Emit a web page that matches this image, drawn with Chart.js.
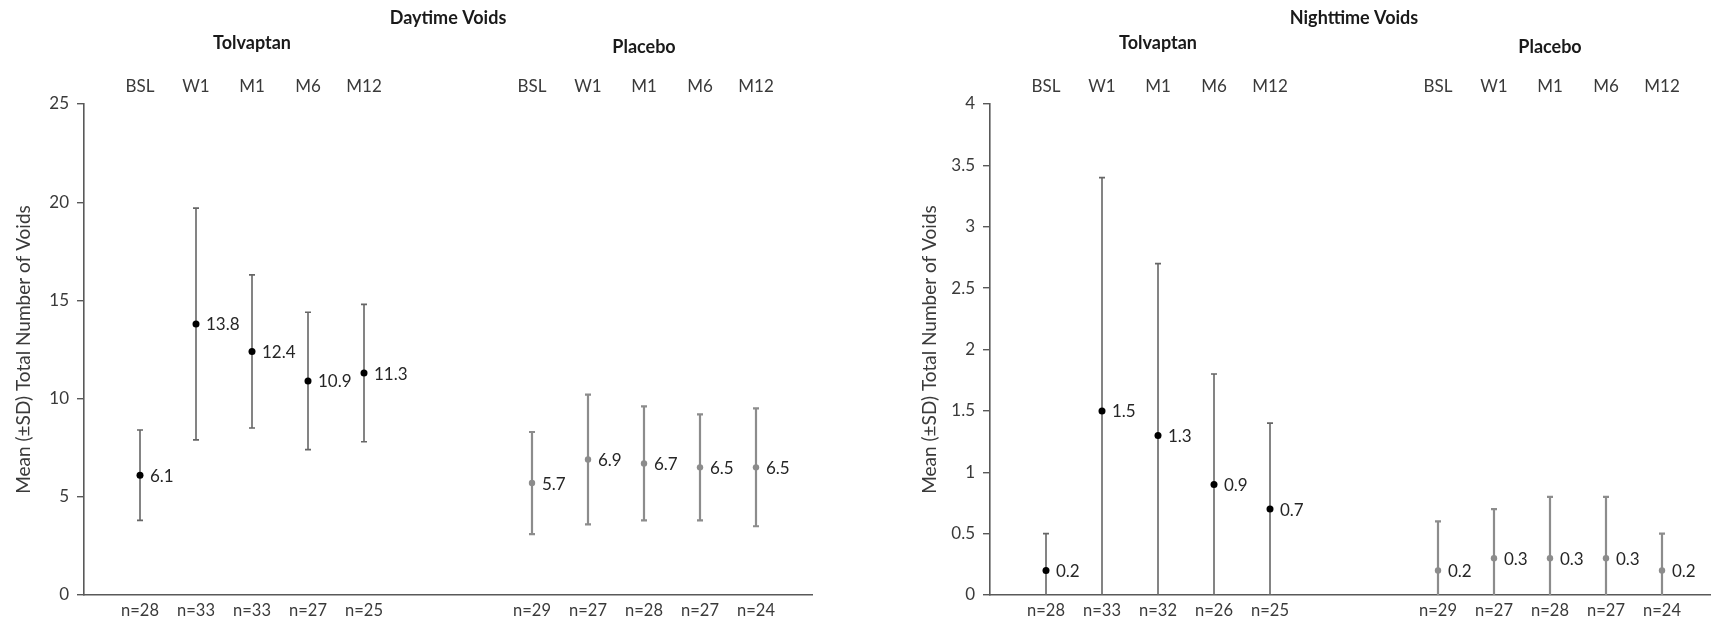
<!DOCTYPE html>
<html>
<head>
<meta charset="utf-8">
<script src="https://cdn.jsdelivr.net/npm/chart.js@4.4.1/dist/chart.umd.min.js"></script>
<style>
  html, body { margin: 0; padding: 0; background: #fff; overflow: hidden; width: 1711px; height: 624px; }
  .panel { position: absolute; top: 0; width: 906px; height: 624px; }
</style>
</head>
<body>
<div class="panel" style="left:0"><canvas id="day" width="906" height="624"></canvas></div>
<div class="panel" style="left:906px"><canvas id="night" width="906" height="624"></canvas></div>
<script>
// Visit labels and slot positions of the two treatment groups on the x axis
const visits = ['BSL', 'W1', 'M1', 'M6', 'M12'];
const tolvaptanSlots = [1, 2, 3, 4, 5];
const placeboSlots = [8, 9, 10, 11, 12];

// Daytime voids: mean and SD per visit
const dayTolvaptanMean = [6.1, 13.8, 12.4, 10.9, 11.3];
const dayTolvaptanSD = [2.3, 5.9, 3.9, 3.5, 3.5];
const dayPlaceboMean = [5.7, 6.9, 6.7, 6.5, 6.5];
const dayPlaceboSD = [2.6, 3.3, 2.9, 2.7, 3.0];
const dayTolvaptanN = [28, 33, 33, 27, 25];
const dayPlaceboN = [29, 27, 28, 27, 24];
const dayTicks = [0, 5, 10, 15, 20, 25];

// Nighttime voids: mean and SD per visit
const nightTolvaptanMean = [0.2, 1.5, 1.3, 0.9, 0.7];
const nightTolvaptanSD = [0.3, 1.9, 1.4, 0.9, 0.7];
const nightPlaceboMean = [0.2, 0.3, 0.3, 0.3, 0.2];
const nightPlaceboSD = [0.4, 0.4, 0.5, 0.5, 0.3];
const nightTolvaptanN = [28, 33, 32, 26, 25];
const nightPlaceboN = [29, 27, 28, 27, 24];
const nightTicks = [0, 0.5, 1, 1.5, 2, 2.5, 3, 3.5, 4];

const FONT = 'Lato, "Open Sans", sans-serif';
const TEXT = '#3a3a3a';
const AXIS = '#595959';

// Vertical ±SD bars with small caps, clipped to the plot area
const sdBars = {
  id: 'sdBars',
  beforeDatasetsDraw(chart) {
    const { ctx, chartArea, scales: { y } } = chart;
    ctx.save();
    ctx.beginPath();
    ctx.rect(chartArea.left, chartArea.top - 3, chartArea.width, chartArea.height + 3);
    ctx.clip();
    chart.data.datasets.forEach((ds, di) => {
      const meta = chart.getDatasetMeta(di);
      ctx.strokeStyle = ds.barColor;
      ctx.lineWidth = ds.barWidth;
      meta.data.forEach((pt, i) => {
        const m = ds.data[i].y, s = ds.sd[i];
        const top = y.getPixelForValue(m + s);
        const bot = y.getPixelForValue(m - s);
        ctx.beginPath();
        ctx.moveTo(pt.x, top); ctx.lineTo(pt.x, bot);
        ctx.moveTo(pt.x - 3, top); ctx.lineTo(pt.x + 3, top);
        ctx.moveTo(pt.x - 3, bot); ctx.lineTo(pt.x + 3, bot);
        ctx.stroke();
      });
    });
    ctx.restore();
  },
  afterDatasetsDraw(chart) {
    const { ctx } = chart;
    ctx.save();
    ctx.font = '17px ' + FONT;
    ctx.fillStyle = '#262626';
    ctx.textAlign = 'left';
    ctx.textBaseline = 'middle';
    chart.data.datasets.forEach((ds, di) => {
      chart.getDatasetMeta(di).data.forEach((pt, i) => {
        ctx.fillText(ds.data[i].y.toFixed(1), pt.x + 10, pt.y + 1);
      });
    });
    ctx.restore();
  }
};

// Chart title, group names, visit labels above and n= labels below
const headings = {
  id: 'headings',
  afterDraw(chart) {
    const { ctx, chartArea } = chart;
    const o = chart.options.plugins.headings;
    ctx.save();
    ctx.textAlign = 'center';
    ctx.textBaseline = 'middle';
    ctx.fillStyle = '#1a1a1a';
    ctx.font = 'bold 18px ' + FONT;
    ctx.fillText(o.title, (chartArea.left + chartArea.right) / 2, 18);
    chart.data.datasets.forEach((ds, di) => {
      const pts = chart.getDatasetMeta(di).data;
      const mid = pts[Math.floor(pts.length / 2)].x;
      ctx.font = 'bold 18px ' + FONT;
      ctx.fillStyle = '#1a1a1a';
      ctx.fillText(ds.label, mid, ds.headingY);
      ctx.fillStyle = TEXT;
      pts.forEach((pt, i) => {
        ctx.font = '17px ' + FONT;
        ctx.fillText(visits[i], pt.x, 87);
        ctx.font = '16.5px ' + FONT;
        ctx.fillText('n=' + ds.n[i], pt.x, 611);
      });
    });
    ctx.restore();
  }
};

function buildChart(id, title, tolMean, tolSD, tolN, plcMean, plcSD, plcN, ticks) {
  return new Chart(document.getElementById(id), {
    type: 'scatter',
    data: {
      datasets: [
        {
          label: 'Tolvaptan',
          data: tolvaptanSlots.map((x, i) => ({ x, y: tolMean[i] })),
          sd: tolSD, n: tolN, headingY: 43,
          pointRadius: 3.5, pointBackgroundColor: '#000', pointBorderWidth: 0,
          barColor: '#666666', barWidth: 1.6
        },
        {
          label: 'Placebo',
          data: placeboSlots.map((x, i) => ({ x, y: plcMean[i] })),
          sd: plcSD, n: plcN, headingY: 47,
          pointRadius: 3.2, pointBackgroundColor: '#8c8c8c', pointBorderWidth: 0,
          barColor: '#8c8c8c', barWidth: 2.2
        }
      ]
    },
    options: {
      responsive: false,
      animation: false,
      layout: { padding: { top: 104, bottom: 29, left: 0, right: 94 } },
      plugins: {
        legend: { display: false },
        tooltip: { enabled: false },
        headings: { title }
      },
      scales: {
        x: {
          type: 'linear', min: 0, max: 13,
          ticks: { display: false },
          grid: { display: false },
          border: { display: true, color: AXIS, width: 1.6 },
          afterFit(scale) { scale.height = 0; }
        },
        y: {
          min: ticks[0], max: ticks[ticks.length - 1],
          afterBuildTicks(scale) { scale.ticks = ticks.map(v => ({ value: v })); },
          ticks: {
            color: TEXT, font: { family: FONT, size: 17 }, padding: 8,
            callback: v => String(v)
          },
          grid: { display: true, drawOnChartArea: false, drawTicks: true, tickLength: 7, color: AXIS, lineWidth: 1.4 },
          border: { display: true, color: AXIS, width: 1.6 },
          title: {
            display: true, text: 'Mean (\u00b1SD) Total Number of Voids',
            color: TEXT, font: { family: FONT, size: 19 }, padding: { top: 12, bottom: 0 }
          },
          afterFit(scale) { scale.width = 84; }
        }
      }
    },
    plugins: [sdBars, headings]
  });
}

buildChart('day', 'Daytime Voids', dayTolvaptanMean, dayTolvaptanSD, dayTolvaptanN,
           dayPlaceboMean, dayPlaceboSD, dayPlaceboN, dayTicks);
buildChart('night', 'Nighttime Voids', nightTolvaptanMean, nightTolvaptanSD, nightTolvaptanN,
           nightPlaceboMean, nightPlaceboSD, nightPlaceboN, nightTicks);
</script>
</body>
</html>
